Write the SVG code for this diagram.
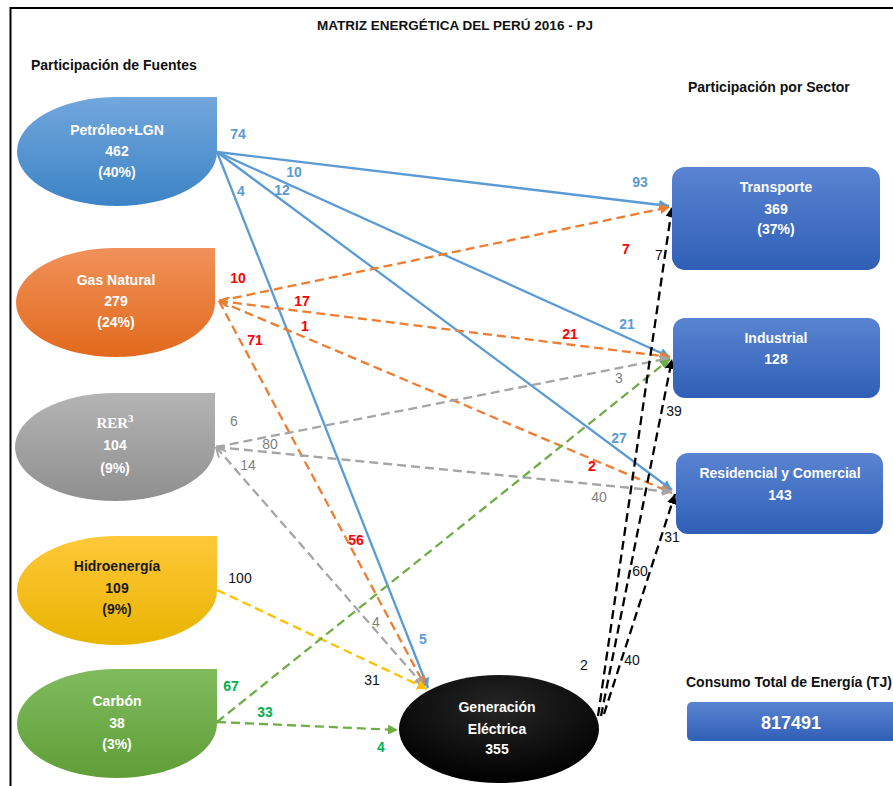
<svg xmlns="http://www.w3.org/2000/svg" width="893" height="786" viewBox="0 0 893 786">
<defs>
<linearGradient id="gBlue" x1="0" y1="0" x2="0" y2="1"><stop offset="0" stop-color="#72a7dc"/><stop offset="1" stop-color="#3c83c6"/></linearGradient>
<linearGradient id="gOrange" x1="0" y1="0" x2="0" y2="1"><stop offset="0" stop-color="#f0915a"/><stop offset="1" stop-color="#e2691c"/></linearGradient>
<linearGradient id="gGray" x1="0" y1="0" x2="0" y2="1"><stop offset="0" stop-color="#b4b4b4"/><stop offset="1" stop-color="#8f8f8f"/></linearGradient>
<linearGradient id="gYellow" x1="0" y1="0" x2="0" y2="1"><stop offset="0" stop-color="#ffc83a"/><stop offset="1" stop-color="#e8b400"/></linearGradient>
<linearGradient id="gGreen" x1="0" y1="0" x2="0" y2="1"><stop offset="0" stop-color="#80bb5e"/><stop offset="1" stop-color="#5f9e37"/></linearGradient>
<linearGradient id="gBox" x1="0" y1="0" x2="0" y2="1"><stop offset="0" stop-color="#5a84d2"/><stop offset="1" stop-color="#2f5fb6"/></linearGradient>
<radialGradient id="gBlack" cx="0.5" cy="0.3" r="0.7"><stop offset="0" stop-color="#262626"/><stop offset="1" stop-color="#000"/></radialGradient>
<marker id="aBlue" markerUnits="userSpaceOnUse" markerWidth="12" markerHeight="10" refX="10" refY="5" orient="auto"><path d="M0,0 L10,5 L0,10 Z" fill="#5b9bd5"/></marker>
<marker id="aOrange" markerUnits="userSpaceOnUse" markerWidth="12" markerHeight="10" refX="10" refY="5" orient="auto"><path d="M0,0 L10,5 L0,10 Z" fill="#ed7d31"/></marker>
<marker id="aOrangeS" markerUnits="userSpaceOnUse" markerWidth="12" markerHeight="10" refX="0" refY="5" orient="auto"><path d="M10,0 L0,5 L10,10" fill="none" stroke="#ed7d31" stroke-width="2"/></marker>
<marker id="aGray" markerUnits="userSpaceOnUse" markerWidth="12" markerHeight="10" refX="10" refY="5" orient="auto"><path d="M0,0 L10,5 L0,10 Z" fill="#a5a5a5"/></marker>
<marker id="aGrayS" markerUnits="userSpaceOnUse" markerWidth="12" markerHeight="10" refX="0" refY="5" orient="auto"><path d="M10,0 L0,5 L10,10" fill="none" stroke="#a5a5a5" stroke-width="2"/></marker>
<marker id="aYellow" markerUnits="userSpaceOnUse" markerWidth="12" markerHeight="10" refX="10" refY="5" orient="auto"><path d="M0,0 L10,5 L0,10 Z" fill="#ffc000"/></marker>
<marker id="aGreen" markerUnits="userSpaceOnUse" markerWidth="12" markerHeight="10" refX="10" refY="5" orient="auto"><path d="M0,0 L10,5 L0,10 Z" fill="#70ad47"/></marker>
<marker id="aBlack" markerUnits="userSpaceOnUse" markerWidth="12" markerHeight="10" refX="10" refY="5" orient="auto"><path d="M0,0 L10,5 L0,10 Z" fill="#000"/></marker>
</defs>
<style>
text{font-family:"Liberation Sans",Arial,sans-serif}
.t{font-size:14px;font-weight:bold;text-anchor:middle;fill:#fff}
.h{font-size:14px;fill:#111}
.lb{font-size:14px;font-weight:bold;text-anchor:middle}
.ln{font-size:14px;text-anchor:middle}
.blue{fill:#5b9bd5}.red{fill:#ff0000}.gray{fill:#7f7f7f}.blk{fill:#111}.grn{fill:#00b050}
.c{fill:none;stroke-width:2.3}
.cb{stroke:#5b9bd5;marker-end:url(#aBlue)}
.co{stroke:#ed7d31;stroke-dasharray:9 5;marker-end:url(#aOrange)}
.cg{stroke:#a5a5a5;stroke-dasharray:9 5;marker-end:url(#aGray)}
.cy{stroke:#ffc000;stroke-dasharray:9 5;marker-end:url(#aYellow)}
.cgr{stroke:#70ad47;stroke-dasharray:9 5;marker-end:url(#aGreen)}
.ck{stroke:#000;stroke-dasharray:9 5;marker-end:url(#aBlack)}
</style>
<rect x="0" y="0" width="893" height="786" fill="#fff"/>
<path d="M10.5,786 V8 H893" fill="none" stroke="#000" stroke-width="2"/>
<text x="455" y="30" text-anchor="middle" font-size="13.5" font-weight="bold" fill="#111">MATRIZ ENERGÉTICA DEL PERÚ 2016 - PJ</text>
<text x="31" y="70" class="h" font-weight="bold" font-size="14.5">Participación de Fuentes</text>
<text x="688" y="92" class="h" font-weight="bold" font-size="14.5">Participación por Sector</text>

<g id="connectors">
<path class="c cb" d="M217,152 L669,206"/>
<path class="c cb" d="M217,152 L670,357"/>
<path class="c cb" d="M217,152 L672,490"/>
<path class="c cb" d="M217,152 L428,688"/>
<path class="c co" d="M219,301 L670,207"/>
<path class="c co" d="M219,301 L670,357" style="marker-start:url(#aOrangeS)"/>
<path class="c co" d="M219,301 L672,493"/>
<path class="c co" d="M219,301 L425,686"/>
<path class="c cg" d="M216,447 L670,358"/>
<path class="c cg" d="M216,447 L672,492"/>
<path class="c cg" d="M216,447 L424,686" style="marker-start:url(#aGrayS)"/>
<path class="c cy" d="M217,590 L427,689"/>
<path class="c cgr" d="M217,722 L670,359"/>
<path class="c cgr" d="M217,722 L398,730"/>
<path class="c ck" d="M598,716 L672,207"/>
<path class="c ck" d="M601,716 L672,359"/>
<path class="c ck" d="M604,714 L675,494"/>
</g>

<g id="labels">
<text x="238" y="139" class="lb blue">74</text>
<text x="294" y="177" class="lb blue">10</text>
<text x="282" y="195" class="lb blue">12</text>
<text x="241" y="196" class="lb blue">4</text>
<text x="640" y="187" class="lb blue">93</text>
<text x="627" y="329" class="lb blue">21</text>
<text x="619" y="443" class="lb blue">27</text>
<text x="423" y="644" class="lb blue">5</text>
<text x="238" y="283" class="lb red">10</text>
<text x="302" y="306" class="lb red">17</text>
<text x="305" y="331" class="lb red">1</text>
<text x="255" y="345" class="lb red">71</text>
<text x="356" y="545" class="lb red">56</text>
<text x="626" y="254" class="lb red">7</text>
<text x="570" y="339" class="lb red">21</text>
<text x="592" y="471" class="lb red">2</text>
<text x="234" y="426" class="ln gray">6</text>
<text x="270" y="449" class="ln gray">80</text>
<text x="248" y="470" class="ln gray">14</text>
<text x="376" y="627" class="ln gray">4</text>
<text x="619" y="383" class="ln gray">3</text>
<text x="599" y="502" class="ln gray">40</text>
<text x="240" y="583" class="ln blk">100</text>
<text x="372" y="685" class="ln blk">31</text>
<text x="231" y="691" class="lb grn">67</text>
<text x="265" y="717" class="lb grn">33</text>
<text x="381" y="752" class="lb grn">4</text>
<text x="659" y="260" class="ln blk">7</text>
<text x="674" y="416" class="ln blk">39</text>
<text x="672" y="542" class="ln blk">31</text>
<text x="640" y="576" class="ln blk">60</text>
<text x="632" y="665" class="ln blk">40</text>
<text x="584" y="670" class="ln blk">2</text>
</g>

<g id="petroleo">
<path d="M217,97 V151.5 A100,54.5 0 0 1 117,206 A100,54.5 0 0 1 17,151.5 A100,54.5 0 0 1 117,97 Z" fill="url(#gBlue)"/>
<text class="t" x="117" y="135">Petróleo+LGN</text>
<text class="t" x="117" y="156">462</text>
<text class="t" x="117" y="177">(40%)</text>
</g>
<g id="gas">
<path d="M215,248 V302.5 A99.5,54.5 0 0 1 115.5,357 A99.5,54.5 0 0 1 16,302.5 A99.5,54.5 0 0 1 115.5,248 Z" fill="url(#gOrange)"/>
<text class="t" x="116" y="285">Gas Natural</text>
<text class="t" x="116" y="306">279</text>
<text class="t" x="116" y="327">(24%)</text>
</g>
<g id="rer">
<path d="M215,393 V447 A100,54 0 0 1 115,501 A100,54 0 0 1 15,447 A100,54 0 0 1 115,393 Z" fill="url(#gGray)"/>
<text class="t" x="115" y="428" style="font-family:'Liberation Serif','Times New Roman',serif;font-size:15px">RER<tspan font-size="11" dy="-6">3</tspan></text>
<text class="t" x="115" y="450">104</text>
<text class="t" x="115" y="473">(9%)</text>
</g>
<g id="hidro">
<path d="M217,536 V590.5 A100,54.5 0 0 1 117,645 A100,54.5 0 0 1 17,590.5 A100,54.5 0 0 1 117,536 Z" fill="url(#gYellow)"/>
<text class="t" x="117" y="571" style="fill:#1a1a1a">Hidroenergía</text>
<text class="t" x="117" y="593" style="fill:#1a1a1a">109</text>
<text class="t" x="117" y="614" style="fill:#1a1a1a">(9%)</text>
</g>
<g id="carbon">
<path d="M217,669 V723.5 A100,54.5 0 0 1 117,778 A100,54.5 0 0 1 17,723.5 A100,54.5 0 0 1 117,669 Z" fill="url(#gGreen)"/>
<text class="t" x="117" y="706">Carbón</text>
<text class="t" x="117" y="728">38</text>
<text class="t" x="117" y="749">(3%)</text>
</g>
<g id="generacion">
<ellipse cx="499" cy="729" rx="100" ry="54" fill="url(#gBlack)"/>
<text class="t" x="497" y="712">Generación</text>
<text class="t" x="497" y="734">Eléctrica</text>
<text class="t" x="497" y="754">355</text>
</g>
<g id="transporte">
<rect x="672" y="167" width="208" height="103" rx="13" fill="url(#gBox)"/>
<text class="t" x="776" y="192">Transporte</text>
<text class="t" x="776" y="214">369</text>
<text class="t" x="776" y="234">(37%)</text>
</g>
<g id="industrial">
<rect x="673" y="318" width="207" height="80" rx="12" fill="url(#gBox)"/>
<text class="t" x="776" y="343">Industrial</text>
<text class="t" x="776" y="364">128</text>
</g>
<g id="residencial">
<rect x="676" y="453" width="207" height="81" rx="12" fill="url(#gBox)"/>
<text class="t" x="780" y="478">Residencial y Comercial</text>
<text class="t" x="780" y="500">143</text>
</g>
<g id="total">
<text x="686" y="687" class="h" font-weight="bold">Consumo Total de Energía (TJ)</text>
<rect x="687" y="702" width="215" height="39" rx="5" fill="url(#gBox)"/>
<text class="t" x="791" y="729" style="font-size:18px">817491</text>
</g>
</svg>
